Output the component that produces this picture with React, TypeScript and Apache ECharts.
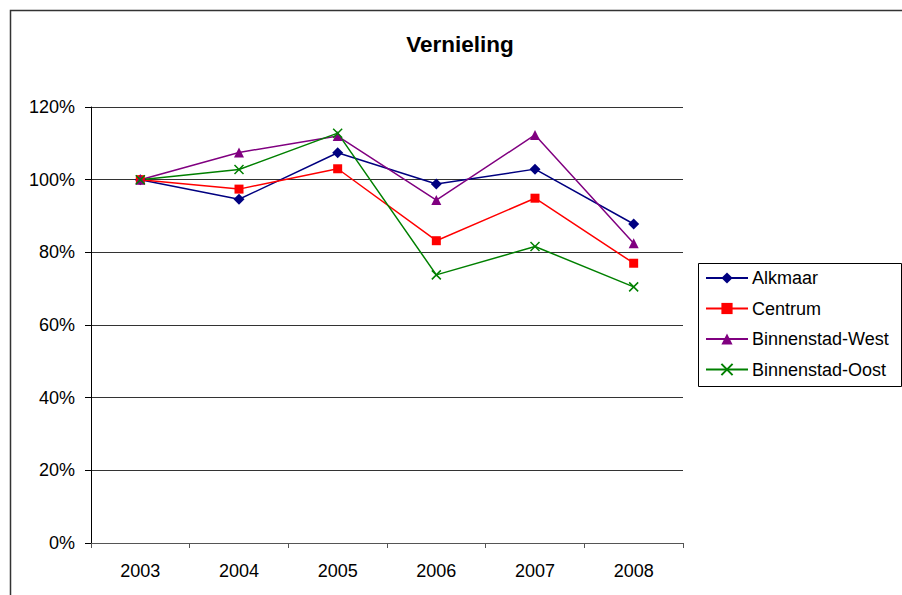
import React, { useEffect, useRef } from "react";
import * as echarts from "echarts";

const categories = ["2003", "2004", "2005", "2006", "2007", "2008"];
const alkmaar = [100, 94.6, 107.4, 98.8, 102.9, 87.8];
const centrum = [100, 97.4, 103.0, 83.2, 94.9, 77.0];
const binnenWest = [100, 107.5, 112.0, 94.4, 112.3, 82.5];
const binnenOost = [100, 102.8, 112.8, 73.8, 81.6, 70.5];
const yTicks = [0, 20, 40, 60, 80, 100, 120];

const FONT = "Liberation Sans, Arial, sans-serif";
const CROSS = "path://M0,0L10,10M10,0L0,10";

export default function App() {
  const ref = useRef<HTMLDivElement>(null);
  useEffect(() => {
    document.body.style.margin = "0";
    const chart = echarts.init(ref.current!, null, { renderer: "svg" });
    const mk = (name: string, data: number[], color: string, symbol: string, size: number, extra: any = {}) => ({
      name,
      type: "line",
      data,
      symbol,
      symbolSize: size,
      lineStyle: { color, width: 1.5 },
      itemStyle: { color, ...extra },
      emphasis: { disabled: true },
    });
    chart.setOption({
      animation: false,
      backgroundColor: "#fff",
      title: {
        text: "Vernieling",
        left: 455,
        top: 28,
        textAlign: "center",
        textStyle: { fontFamily: FONT, fontSize: 22.5, fontWeight: "bold", color: "#000" },
      },
      grid: { left: 91, right: 219, top: 107, bottom: 52 },
      xAxis: {
        type: "category",
        data: categories,
        boundaryGap: true,
        axisLine: { lineStyle: { color: "#555", width: 1 } },
        axisTick: { show: true, length: 5, lineStyle: { color: "#555" } },
        axisLabel: { fontFamily: FONT, fontSize: 18, color: "#000", margin: 19 },
        splitLine: { show: false },
      },
      yAxis: {
        type: "value",
        min: yTicks[0],
        max: yTicks[yTicks.length - 1],
        interval: 20,
        axisLine: { show: true, lineStyle: { color: "#000", width: 1 } },
        axisTick: { show: true, length: 6, lineStyle: { color: "#000" } },
        axisLabel: { fontFamily: FONT, fontSize: 18, color: "#000", margin: 16, formatter: "{value}%" },
        splitLine: { show: true, lineStyle: { color: "#333", width: 1 } },
      },
      legend: {
        orient: "vertical",
        left: 700,
        top: 264,
        itemWidth: 42,
        itemHeight: 14,
        itemGap: 12.5,
        textStyle: { fontFamily: FONT, fontSize: 18, lineHeight: 18, color: "#000", padding: [0, 0, 0, -1] },
        data: ["Alkmaar", "Centrum", "Binnenstad-West", "Binnenstad-Oost"],
      },
      graphic: [
        {
          type: "rect",
          shape: { x: 10.5, y: 10.5, width: 1000, height: 1000 },
          style: { fill: "none", stroke: "#333", lineWidth: 1.5 },
          silent: true,
        },
        {
          type: "rect",
          shape: { x: 698.5, y: 263.5, width: 203, height: 123 },
          style: { fill: "none", stroke: "#000", lineWidth: 1 },
          silent: true,
        },
      ],
      series: [
        mk("Alkmaar", alkmaar, "#000080", "diamond", 11),
        mk("Centrum", centrum, "#FF0000", "rect", 9),
        mk("Binnenstad-West", binnenWest, "#800080", "triangle", 10),
        mk("Binnenstad-Oost", binnenOost, "#008000", CROSS, 9, {
          color: "none",
          borderColor: "#008000",
          borderWidth: 1.5,
        }),
      ],
    });
    return () => chart.dispose();
  }, []);
  return <div ref={ref} style={{ width: 902, height: 595 }} />;
}
